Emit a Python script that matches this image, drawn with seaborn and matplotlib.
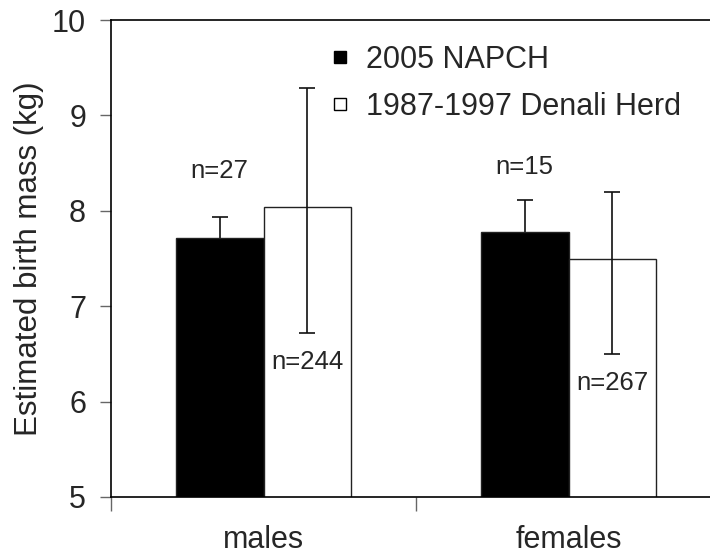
import matplotlib
matplotlib.use("Agg")
import matplotlib.pyplot as plt
from matplotlib.lines import Line2D
import numpy as np
import pandas as pd
import seaborn as sns

# values
groups = ["males", "females"]
series = ["2005 NAPCH", "1987-1997 Denali Herd"]
napch_mean = [7.71, 7.78]
napch_err = [0.23, 0.33]
denali_mean = [8.04, 7.49]
denali_err_low = [1.32, 0.99]
denali_err_high = [1.25, 0.71]
napch_n = ["n=27", "n=15"]
denali_n = ["n=244", "n=267"]

df = pd.DataFrame({
    "group": groups * 2,
    "series": [series[0]] * 2 + [series[1]] * 2,
    "mass": napch_mean + denali_mean,
})

sns.set_theme(style="white")
plt.rcParams["font.family"] = ["Liberation Sans", "DejaVu Sans"]

fig = plt.figure(figsize=(7.1, 5.57), dpi=100)
ax = fig.add_axes([111 / 710, 1 - 497 / 557, 610 / 710, 477 / 557])

sns.barplot(
    data=df, x="group", y="mass", hue="series", order=groups,
    hue_order=series, palette=["black", "white"], edgecolor="#222222",
    linewidth=1.0, width=0.577, errorbar=None, zorder=2, ax=ax,
)
ax.get_legend().remove()

# bar centres from the drawn patches, in order: NAPCH males, females, Denali males, females
bars = [p for p in ax.patches if p.get_height() > 0]
centers = [p.get_x() + p.get_width() / 2 for p in bars]
x_napch = centers[:2]
x_denali = centers[2:4]

# NAPCH whiskers sit behind the black bars, so only the upper half shows
ax.errorbar(x_napch, napch_mean, yerr=napch_err, fmt="none", ecolor="#111111",
            elinewidth=1.2, capsize=5.5, capthick=1.2, zorder=1)
ax.errorbar(x_denali, denali_mean, yerr=[denali_err_low, denali_err_high],
            fmt="none", ecolor="#111111", elinewidth=1.2, capsize=5.5,
            capthick=1.2, zorder=3)

# sample sizes
for x, lab, y in zip(x_napch, napch_n, [8.42, 8.46]):
    ax.text(x, y, lab, ha="center", va="center", fontsize=18.5)
for x, lab, y in zip(x_denali, denali_n, [6.42, 6.2]):
    ax.text(x, y, lab, ha="center", va="center", fontsize=18.5)

ax.set_ylim(5, 10)
ax.set_xlim(-0.5, 1.5)
ax.set_yticks([5, 6, 7, 8, 9, 10])
ax.set_xticks([0, 1])
ax.set_xticklabels(groups)
ax.set_xticks([-0.5, 0.5, 1.5], minor=True)
ax.tick_params(axis="x", which="major", length=0, pad=20, labelsize=22)
ax.tick_params(axis="x", which="minor", length=10, width=1, color="#666666",
               direction="out", bottom=True)
ax.tick_params(axis="y", length=8, width=1, color="#666666", direction="out",
               left=True, pad=10, labelsize=22)
ax.set_xlabel("")
ax.set_ylabel("Estimated birth mass (kg)", fontsize=22.5, labelpad=6)

for side in ["left", "bottom", "top", "right"]:
    ax.spines[side].set_visible(True)
    ax.spines[side].set_color("black")
    ax.spines[side].set_linewidth(1.2)

handles = [Line2D([], [], linestyle="none", marker="s", markersize=8.5,
                  markerfacecolor=c, markeredgecolor="black", markeredgewidth=1)
           for c in ["black", "white"]]
fig.legend(handles, series, loc="upper left", bbox_to_anchor=(328 / 710, 1 - 45 / 557),
           frameon=False, fontsize=22, handlelength=0.8,
           handletextpad=0.45, labelspacing=0.55, borderpad=0, borderaxespad=0)

fig.savefig("out.png", dpi=100)
